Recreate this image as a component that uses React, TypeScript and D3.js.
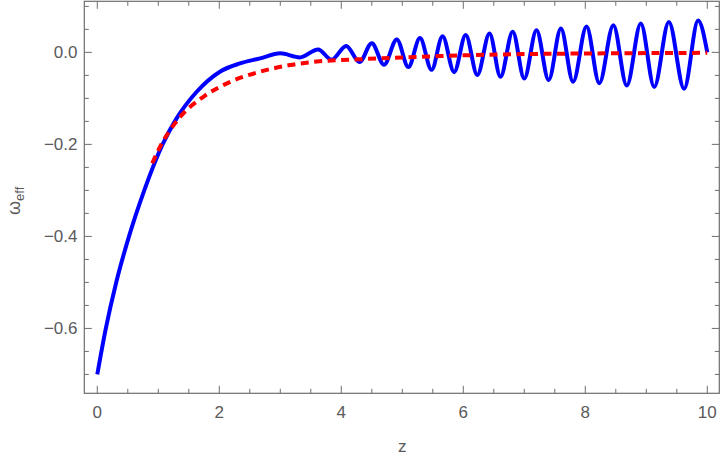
import React from "react";
import * as d3 from "d3";

// Blue curve (solid) readings
const blueZ = [0, 0.14, 0.31, 0.52, 0.77, 1.07, 1.3, 1.63, 2.01, 2.34, 2.67, 3.0, 3.32, 3.62, 3.84, 4.08, 4.3, 4.5, 4.7, 4.91, 5.1, 5.29, 5.48, 5.66, 5.85, 6.04, 6.23, 6.43, 6.61, 6.81, 7.0, 7.2, 7.4, 7.6, 7.8, 8.02, 8.23, 8.46, 8.68, 8.91, 9.13, 9.37, 9.62, 9.85, 10.0];
const blueW = [-0.7, -0.6, -0.5, -0.4, -0.3, -0.2, -0.1435, -0.0856, -0.042, -0.024, -0.013, -0.002, -0.011, 0.0065, -0.016, 0.014, -0.021, 0.02, -0.027, 0.028, -0.032, 0.031, -0.038, 0.035, -0.043, 0.038, -0.049, 0.041, -0.053, 0.045, -0.057, 0.048, -0.06, 0.052, -0.064, 0.056, -0.067, 0.059, -0.072, 0.063, -0.075, 0.066, -0.079, 0.069, 0.0];

// Red curve (dashed) readings
const redZ = [0.9, 1.03, 1.36, 1.74, 2.18, 2.67, 3.16, 3.6, 4.3, 5.0, 5.62, 6.6, 7.5, 8.5, 10.0];
const redW = [-0.241, -0.205, -0.14, -0.0965, -0.064, -0.042, -0.0276, -0.02, -0.015, -0.011, -0.008, -0.0045, -0.003, -0.002, -0.001];

const xMajor = [0, 2, 4, 6, 8, 10];
const xLabels = ["0", "2", "4", "6", "8", "10"];
const xMinor = [0.5, 1, 1.5, 2.5, 3, 3.5, 4.5, 5, 5.5, 6.5, 7, 7.5, 8.5, 9, 9.5];
const yMajor = [-0.6, -0.4, -0.2, 0.0];
const yLabels = ["\u22120.6", "\u22120.4", "\u22120.2", "0.0"];
const yMinor = [-0.7, -0.65, -0.55, -0.5, -0.45, -0.35, -0.3, -0.25, -0.15, -0.1, -0.05, 0.05, 0.1];

const W = 720, H = 458;
const L = 84.3, R = 719.3, T = 1.3, B = 393.3;

export default function App() {
  const x = d3.scaleLinear().domain([-0.213, 10.197]).range([L, R]);
  const y = d3.scaleLinear().domain([-0.741, 0.111]).range([B, T]);
  const line = d3.line<[number, number]>().x(d => x(d[0])).y(d => y(d[1])).curve(d3.curveMonotoneX);
  const blue = line(blueZ.map((z, i) => [z, blueW[i]]) as [number, number][]) || "";
  const red = line(redZ.map((z, i) => [z, redW[i]]) as [number, number][]) || "";
  const axisColor = "#6e6e6e";
  const textColor = "#5a5a5a";
  const font = "'Liberation Sans', Arial, sans-serif";
  const major = 7.5, minor = 4.5;
  return (
    <svg width={W} height={H} style={{ position: "absolute", left: 0, top: 0, background: "#fff" }} fontFamily={font}>
      <defs>
        <clipPath id="plot"><rect x={L} y={T} width={R - L} height={B - T} /></clipPath>
      </defs>
      <g clipPath="url(#plot)">
        <path d={blue} fill="none" stroke="#0000ff" strokeWidth={4} strokeLinejoin="round" />
        <path d={red} fill="none" stroke="#ff0000" strokeWidth={4} strokeDasharray="8,5.5" />
      </g>
      <rect x={L} y={T} width={R - L} height={B - T} fill="none" stroke={axisColor} strokeWidth={1.2} />
      {xMajor.map(v => (
        <g key={"xM" + v}>
          <line x1={x(v)} x2={x(v)} y1={B} y2={B - major} stroke={axisColor} strokeWidth={1} />
          <line x1={x(v)} x2={x(v)} y1={T} y2={T + major} stroke={axisColor} strokeWidth={1} />
        </g>
      ))}
      {xMinor.map(v => (
        <g key={"xm" + v}>
          <line x1={x(v)} x2={x(v)} y1={B} y2={B - minor} stroke={axisColor} strokeWidth={1} />
          <line x1={x(v)} x2={x(v)} y1={T} y2={T + minor} stroke={axisColor} strokeWidth={1} />
        </g>
      ))}
      {yMajor.map(v => (
        <g key={"yM" + v}>
          <line x1={L} x2={L + major} y1={y(v)} y2={y(v)} stroke={axisColor} strokeWidth={1} />
          <line x1={R} x2={R - major} y1={y(v)} y2={y(v)} stroke={axisColor} strokeWidth={1} />
        </g>
      ))}
      {yMinor.map(v => (
        <g key={"ym" + v}>
          <line x1={L} x2={L + minor} y1={y(v)} y2={y(v)} stroke={axisColor} strokeWidth={1} />
          <line x1={R} x2={R - minor} y1={y(v)} y2={y(v)} stroke={axisColor} strokeWidth={1} />
        </g>
      ))}
      {xMajor.map((v, i) => (
        <text key={"xl" + v} x={x(v)} y={418} textAnchor="middle" fontSize={17} fill={textColor}>{xLabels[i]}</text>
      ))}
      {yMajor.map((v, i) => (
        <text key={"yl" + v} x={77.5} y={y(v) + 6} textAnchor="end" fontSize={17} fill={textColor}>{yLabels[i]}</text>
      ))}
      <text x={x(5)} y={452} textAnchor="middle" fontSize={17} fill={textColor}>z</text>
      <text transform="translate(20,215) rotate(-90)" fontSize={18} fill={textColor}>
        ω<tspan dy={4} fontSize={13}>eff</tspan>
      </text>
    </svg>
  );
}
